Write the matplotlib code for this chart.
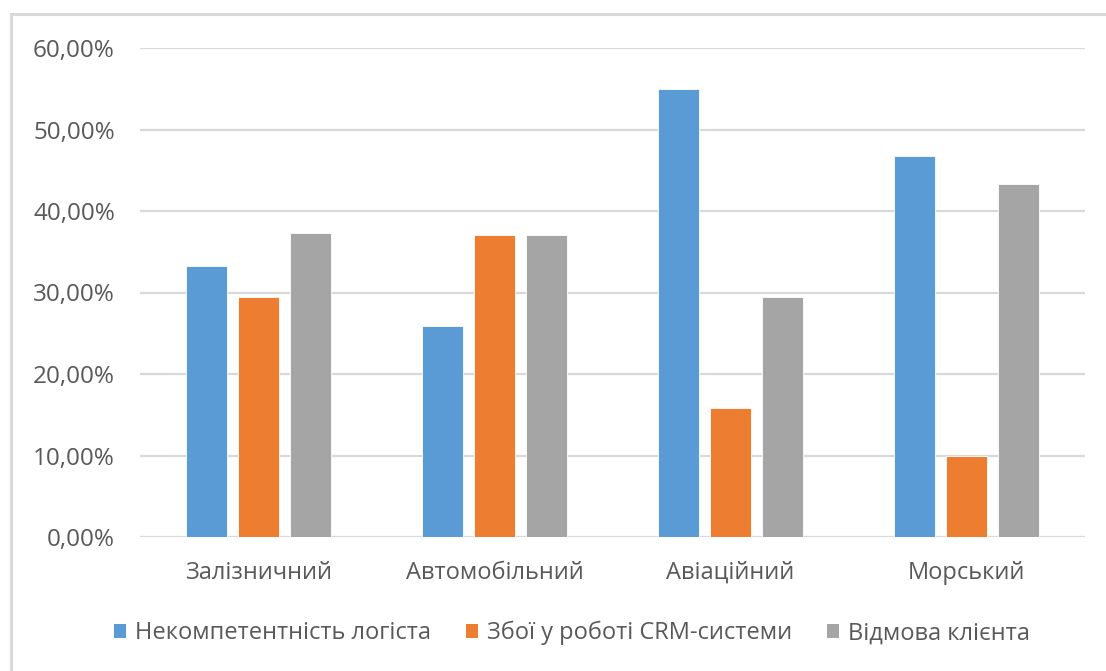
import matplotlib
matplotlib.use("Agg")
import matplotlib.pyplot as plt
from matplotlib.lines import Line2D
from matplotlib.patches import Patch
import numpy as np

categories = ["Залізничний", "Автомобільний", "Авіаційний", "Морський"]
series_names = ["Некомпетентність логіста", "Збої у роботі CRM-системи", "Відмова клієнта"]
incompetence = [33.3, 25.9, 55.0, 46.7]
crm_failures = [29.4, 37.0, 15.8, 10.0]
client_refusal = [37.3, 37.1, 29.4, 43.3]
y_ticks = [0, 10, 20, 30, 40, 50, 60]

colors = ["#5b9bd5", "#ed7d31", "#a5a5a5"]
text_color = "#595959"
grid_color = "#d9d9d9"

plt.rcParams["font.family"] = ["Open Sans", "DejaVu Sans"]

fig = plt.figure(figsize=(11.06, 6.71), dpi=100)
ax = fig.add_axes([140 / 1106, 1 - 537 / 671, 945 / 1106, (537 - 48) / 671])

x = np.arange(len(categories))
bar_w = 0.174
step = 0.22
for i, (vals, c) in enumerate(zip([incompetence, crm_failures, client_refusal], colors)):
    ax.bar(x + (i - 1) * step, vals, width=bar_w, color=c,
           edgecolor="white", linewidth=0.6, zorder=3, label=series_names[i])

ax.set_xlim(-0.5, len(categories) - 0.5)
ax.set_ylim(0, 60)
ax.set_yticks(y_ticks)
ax.set_yticklabels([f"{v:.2f}%".replace(".", ",") for v in y_ticks])
ax.set_xticks(x)
ax.set_xticklabels(categories)

ax.grid(axis="y", color=grid_color, linewidth=1.6, zorder=0)
for s in ax.spines.values():
    s.set_visible(False)
ax.tick_params(axis="both", length=0, colors=text_color)
ax.tick_params(axis="y", pad=18, labelsize=17.5)
ax.tick_params(axis="x", pad=17, labelsize=17)

handles = [Patch(facecolor=c, edgecolor="none") for c in colors]
fig.legend(handles, series_names, loc="center", bbox_to_anchor=(572 / 1106, 1 - 633 / 671),
           ncol=3, frameon=False, fontsize=17, labelcolor=text_color,
           handlelength=0.5, handleheight=0.5, handletextpad=0.38, columnspacing=1.5)

# light frame around the chart area (top and left edges)
fig.add_artist(Line2D([11 / 1106, 1.0], [1 - 14 / 671, 1 - 14 / 671],
                      transform=fig.transFigure, color="#d9d9d9", linewidth=2.2))
fig.add_artist(Line2D([11 / 1106, 11 / 1106], [0, 1 - 14 / 671],
                      transform=fig.transFigure, color="#d9d9d9", linewidth=2.2))

fig.savefig("out.png", dpi=100)
